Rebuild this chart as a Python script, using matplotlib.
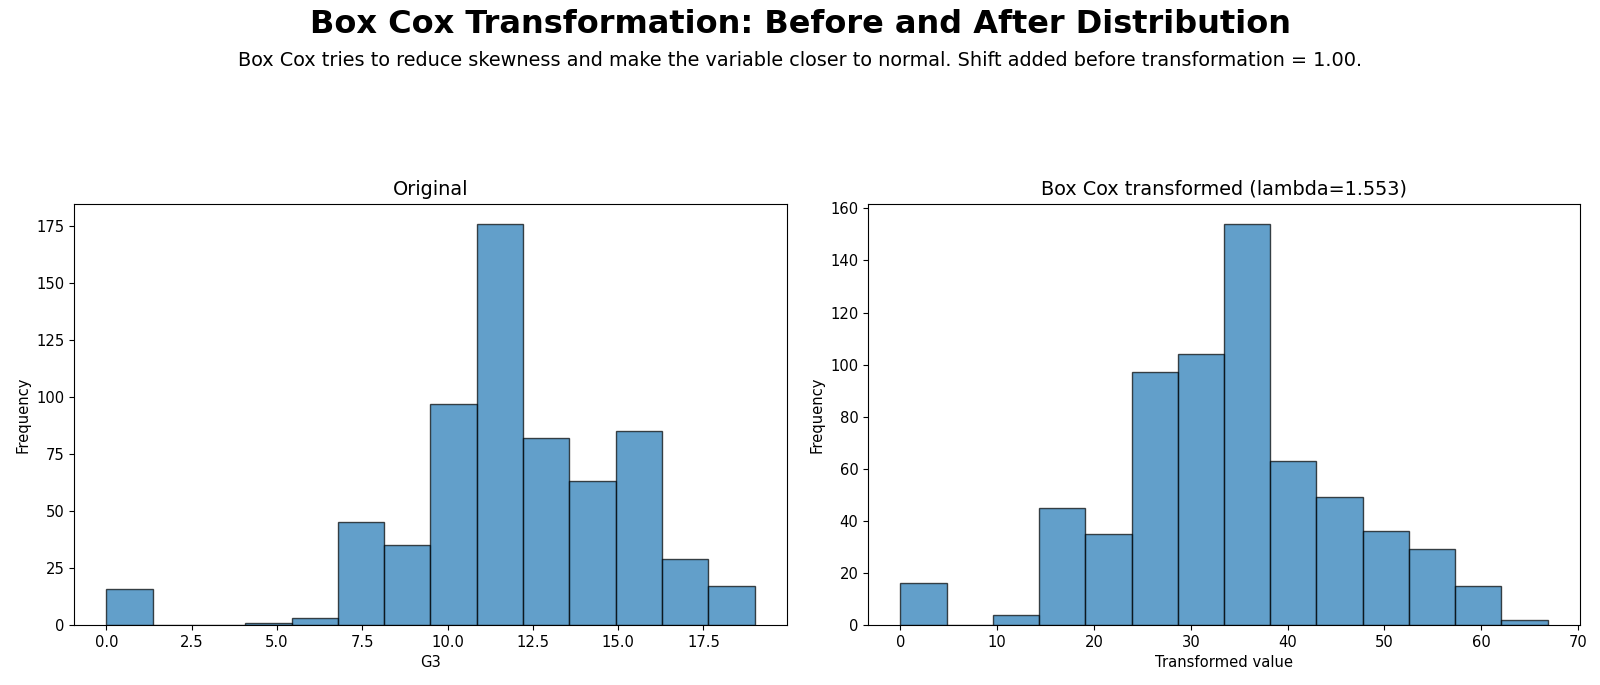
import numpy as np
import matplotlib
matplotlib.use("Agg")
import matplotlib.pyplot as plt

# histogram counts (14 bins each)
orig_counts = [16, 0, 0, 1, 3, 45, 35, 97, 176, 82, 63, 85, 29, 17]
orig_range = (0.0, 19.0)
bc_counts = [16, 0, 4, 45, 35, 97, 104, 154, 63, 49, 36, 29, 15, 2]
bc_range = (0.0, 66.85)
lam = 1.553
shift = 1.00

fig = plt.figure(figsize=(16, 6.85), dpi=100)
ax1 = fig.add_axes([0.04625, 0.0876, 0.4456, 0.6146])
ax2 = fig.add_axes([0.5425, 0.0876, 0.445, 0.6146])

fig.text(0.5, 0.964, "Box Cox Transformation: Before and After Distribution",
         ha="center", va="center", fontsize=23.0, fontweight="bold")
fig.text(0.5, 0.911,
         "Box Cox tries to reduce skewness and make the variable closer to normal. "
         f"Shift added before transformation = {shift:.2f}.",
         ha="center", va="center", fontsize=13.85)

for ax, counts, rng, title, xlabel in [
    (ax1, orig_counts, orig_range, "Original", "G3"),
    (ax2, bc_counts, bc_range, f"Box Cox transformed (lambda={lam:.3f})", "Transformed value"),
]:
    edges = np.linspace(rng[0], rng[1], len(counts) + 1)
    ax.hist(edges[:-1], bins=edges, weights=counts, color="tab:blue",
            alpha=0.7, edgecolor="black", linewidth=1.0)
    ax.set_title(title, fontsize=13.85, pad=6.5)
    ax.set_xlabel(xlabel, fontsize=10.65)
    ax.set_ylabel("Frequency", fontsize=10.65)
    ax.tick_params(labelsize=10.65)

ax1.set_xticks(np.arange(0, 18, 2.5))
ax2.set_xticks(np.arange(0, 71, 10))

fig.savefig("out.png", dpi=100)
